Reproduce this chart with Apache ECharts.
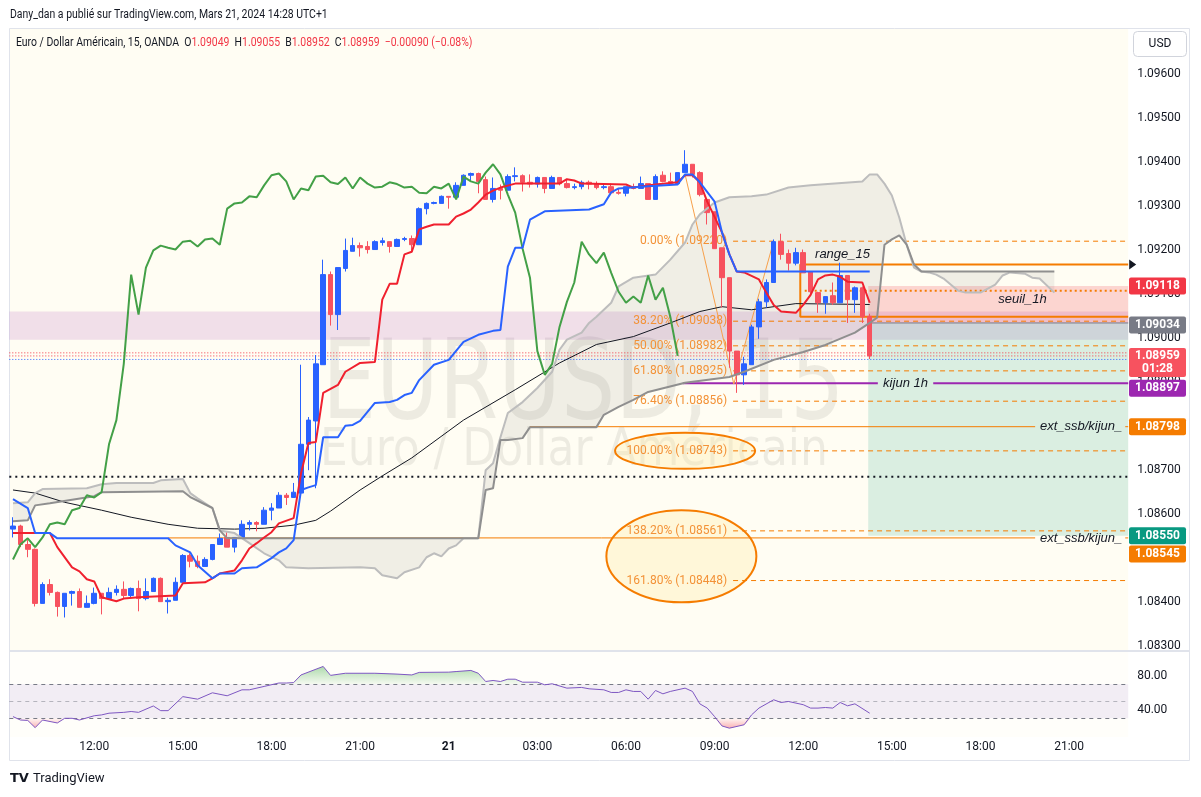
<!DOCTYPE html>
<html>
<head>
<meta charset="utf-8">
<title>EURUSD 15</title>
<script src="https://cdn.jsdelivr.net/npm/echarts@6/dist/echarts.min.js"></script>
<style>
html,body{margin:0;padding:0;background:#ffffff;}
#chart{width:1201px;height:797px;}
</style>
</head>
<body>
<div id="chart"></div>
<script>
// ---------------- DATA ----------------
// 15-minute candles, index 0 = 20 Mar 09:15, index 116 = 21 Mar 14:15
const opens = [1.08565,1.08572,1.08530,1.08519,1.08396,1.08439,1.08421,1.08389,1.08419,1.08423,
1.08387,1.08396,1.08419,1.08407,1.08421,1.08428,1.08414,1.08430,1.08407,1.08423,
1.08453,1.08400,1.08403,1.08444,1.08505,1.08492,1.08480,1.08496,1.08530,1.08546,
1.08524,1.08546,1.08576,1.08580,1.08576,1.08608,1.08613,1.08642,1.08637,1.08647,
1.08758,1.08811,1.08939,1.09144,1.09053,1.09158,1.09197,1.09210,1.09208,1.09201,
1.09217,1.09219,1.09208,1.09224,1.09226,1.09212,1.09294,1.09306,1.09306,1.09322,
1.09320,1.09347,1.09370,1.09374,1.09360,1.09315,1.09340,1.09336,1.09367,1.09369,
1.09354,1.09350,1.09365,1.09340,1.09365,1.09351,1.09342,1.09344,1.09354,1.09350,
1.09342,1.09344,1.09331,1.09329,1.09344,1.09340,1.09351,1.09315,1.09370,1.09356,
1.09351,1.09376,1.09395,1.09376,1.09315,1.09287,1.09205,1.09137,1.08970,1.08916,
1.08939,1.09025,1.09082,1.09126,1.09219,1.09192,1.09170,1.09194,1.09151,1.09103,
1.09080,1.09096,1.09080,1.09142,1.09087,1.09114,1.09049];
const closes = [1.08572,1.08530,1.08519,1.08396,1.08439,1.08421,1.08389,1.08419,1.08423,1.08387,
1.08396,1.08419,1.08407,1.08421,1.08428,1.08414,1.08430,1.08407,1.08423,1.08453,
1.08400,1.08403,1.08444,1.08505,1.08492,1.08480,1.08496,1.08530,1.08544,1.08524,
1.08546,1.08576,1.08580,1.08576,1.08608,1.08613,1.08642,1.08637,1.08649,1.08758,
1.08813,1.08941,1.09144,1.09053,1.09160,1.09199,1.09210,1.09205,1.09201,1.09219,
1.09221,1.09208,1.09224,1.09226,1.09212,1.09294,1.09306,1.09308,1.09322,1.09320,
1.09347,1.09370,1.09374,1.09356,1.09315,1.09340,1.09336,1.09367,1.09369,1.09354,
1.09350,1.09365,1.09340,1.09365,1.09351,1.09342,1.09344,1.09354,1.09350,1.09342,
1.09344,1.09330,1.09329,1.09344,1.09340,1.09351,1.09315,1.09367,1.09356,1.09351,
1.09376,1.09395,1.09372,1.09326,1.09285,1.09203,1.09137,1.08970,1.08916,1.08941,
1.09025,1.09082,1.09126,1.09219,1.09190,1.09170,1.09194,1.09148,1.09105,1.09080,
1.09094,1.09080,1.09142,1.09087,1.09114,1.09048,1.08959];
const lows = [1.08546,1.08524,1.08501,1.08389,1.08396,1.08414,1.08366,1.08364,1.08391,1.08387,
1.08387,1.08394,1.08371,1.08405,1.08414,1.08407,1.08410,1.08378,1.08403,1.08423,
1.08400,1.08373,1.08403,1.08444,1.08478,1.08476,1.08480,1.08494,1.08530,1.08524,
1.08512,1.08546,1.08562,1.08560,1.08576,1.08585,1.08613,1.08620,1.08637,1.08640,
1.08699,1.08658,1.08939,1.09028,1.09018,1.09151,1.09197,1.09185,1.09192,1.09201,
1.09210,1.09194,1.09208,1.09220,1.09196,1.09212,1.09281,1.09304,1.09306,1.09294,
1.09317,1.09347,1.09356,1.09329,1.09315,1.09308,1.09315,1.09336,1.09356,1.09333,
1.09342,1.09342,1.09329,1.09340,1.09347,1.09340,1.09338,1.09338,1.09338,1.09338,
1.09338,1.09326,1.09326,1.09322,1.09338,1.09340,1.09315,1.09315,1.09354,1.09351,
1.09349,1.09376,1.09365,1.09322,1.09258,1.09203,1.09069,1.08932,1.08875,1.08893,
1.08939,1.08998,1.09069,1.09126,1.09178,1.09153,1.09165,1.09148,1.09098,1.09057,
1.09055,1.09075,1.09080,1.09034,1.09057,1.09034,1.08952];
const highs = [1.08592,1.08575,1.08540,1.08521,1.08444,1.08451,1.08423,1.08419,1.08425,1.08430,
1.08414,1.08432,1.08419,1.08432,1.08437,1.08446,1.08432,1.08448,1.08453,1.08455,
1.08455,1.08409,1.08455,1.08508,1.08510,1.08505,1.08501,1.08530,1.08555,1.08558,
1.08546,1.08585,1.08585,1.08583,1.08615,1.08624,1.08649,1.08647,1.08670,1.08939,
1.08820,1.08961,1.09178,1.09151,1.09160,1.09226,1.09228,1.09217,1.09220,1.09222,
1.09228,1.09219,1.09226,1.09230,1.09233,1.09297,1.09308,1.09310,1.09324,1.09322,
1.09354,1.09372,1.09376,1.09376,1.09367,1.09365,1.09349,1.09372,1.09388,1.09372,
1.09372,1.09367,1.09365,1.09369,1.09365,1.09360,1.09351,1.09358,1.09358,1.09356,
1.09351,1.09351,1.09340,1.09344,1.09351,1.09367,1.09351,1.09372,1.09379,1.09376,
1.09376,1.09427,1.09395,1.09379,1.09315,1.09287,1.09205,1.09137,1.08970,1.08957,
1.09030,1.09089,1.09133,1.09224,1.09237,1.09201,1.09205,1.09201,1.09151,1.09105,
1.09094,1.09126,1.09171,1.09142,1.09117,1.09117,1.09055];

// time-axis tick labels (first at index 11 = 20 Mar 12:00, every 12 bars)
const timeLabels = ['12:00','15:00','18:00','21:00','21','03:00','06:00','09:00','12:00','15:00','18:00','21:00'];
const firstLabelIdx = 11, labelStep = 12;
const priceTickLabels = ['1.08300','1.08400','1.08500','1.08600','1.08700','1.08800','1.08900',
  '1.09000','1.09100','1.09200','1.09300','1.09400','1.09500','1.09600'];
const rsiTickLabels = ['40.00','80.00'];

// Ichimoku & moving average, [barIndex, price]
const tenkan = [[0,1.08556],[5,1.08556],[6,1.08524],[8,1.08478],[9,1.08469],[10,1.08451],[11,1.08446],[12,1.08410],[14,1.08401],[15,1.08407],[17,1.08410],[22,1.08414],[23,1.08442],[26,1.08444],[27,1.08453],[28,1.08464],[30,1.08471],[31,1.08494],[32,1.08521],[33,1.08533],[34,1.08546],[35,1.08558],[36,1.08578],[38,1.08590],[39,1.08692],[40,1.08761],[41,1.08763],[42,1.08875],[44,1.08893],[45,1.08923],[47,1.08943],[49,1.08945],[50,1.09087],[51,1.09123],[52,1.09123],[53,1.09190],[54,1.09196],[55,1.09247],[56,1.09253],[57,1.09258],[59,1.09258],[60,1.09276],[61,1.09283],[62,1.09292],[63,1.09308],[64,1.09326],[65,1.09335],[66,1.09342],[68,1.09351],[74,1.09351],[75,1.09361],[76,1.09358],[77,1.09351],[83,1.09349],[84,1.09342],[86,1.09347],[87,1.09349],[90,1.09354],[91,1.09370],[92,1.09370],[93,1.09354],[94,1.09310],[96,1.09240],[97,1.09190],[98,1.09151],[99,1.09149],[101,1.09133],[102,1.09103],[103,1.09075],[104,1.09060],[106,1.09057],[107,1.09075],[108,1.09098],[109,1.09133],[110,1.09142],[111,1.09144],[112,1.09139],[113,1.09128],[115,1.09126],[116,1.09080]];
const kijun = [[0,1.08633],[2,1.08613],[3,1.08556],[5,1.08556],[6,1.08544],[21,1.08544],[22,1.08528],[24,1.08512],[25,1.08483],[27,1.08453],[28,1.08464],[30,1.08464],[31,1.08476],[33,1.08478],[35,1.08499],[36,1.08512],[37,1.08521],[38,1.08540],[39,1.08654],[40,1.08660],[41,1.08665],[42,1.08774],[44,1.08774],[45,1.08800],[46,1.08802],[47,1.08811],[49,1.08852],[51,1.08854],[52,1.08859],[53,1.08870],[54,1.08875],[55,1.08904],[57,1.08939],[59,1.08950],[61,1.08991],[63,1.09007],[65,1.09016],[66,1.09018],[67,1.09162],[68,1.09205],[69,1.09205],[70,1.09269],[72,1.09288],[78,1.09292],[80,1.09304],[81,1.09331],[82,1.09340],[86,1.09345],[90,1.09349],[91,1.09372],[92,1.09372],[93,1.09354],[95,1.09310],[96,1.09240],[97,1.09190],[98,1.09151],[116,1.09151]];
const senkouA = [[0,1.08624],[2,1.08626],[3,1.08647],[4,1.08656],[10,1.08658],[12,1.08667],[14,1.08670],[19,1.08670],[20,1.08676],[23,1.08679],[24,1.08647],[25,1.08635],[27,1.08613],[28,1.08562],[30,1.08556],[32,1.08533],[34,1.08510],[36,1.08494],[37,1.08478],[40,1.08476],[47,1.08478],[49,1.08476],[50,1.08460],[52,1.08453],[53,1.08467],[55,1.08478],[56,1.08501],[57,1.08510],[58,1.08503],[59,1.08521],[60,1.08528],[61,1.08544],[63,1.08544],[64,1.08699],[65,1.08715],[66,1.08774],[67,1.08829],[69,1.08854],[71,1.08886],[73,1.08923],[74,1.08973],[75,1.08996],[77,1.09012],[78,1.09034],[79,1.09048],[81,1.09080],[82,1.09117],[84,1.09137],[87,1.09144],[89,1.09178],[91,1.09217],[92,1.09258],[93,1.09281],[95,1.09308],[97,1.09320],[100,1.09322],[102,1.09326],[105,1.09342],[108,1.09347],[115,1.09356],[116,1.09372],[117,1.09372],[118,1.09351],[119,1.09324],[120,1.09274],[121,1.09212],[122,1.09160],[123,1.09151],[124,1.09149],[125,1.09144],[126,1.09135],[127,1.09121],[128,1.09107],[129,1.09103],[131,1.09103],[133,1.09121],[134,1.09142],[135,1.09149],[137,1.09146],[138,1.09137],[139,1.09135],[141,1.09103]];
const senkouB = [[0,1.08583],[2,1.08585],[3,1.08619],[5,1.08624],[11,1.08640],[12,1.08649],[23,1.08651],[24,1.08638],[27,1.08613],[28,1.08562],[29,1.08544],[63,1.08544],[64,1.08654],[65,1.08658],[66,1.08768],[67,1.08768],[69,1.08772],[70,1.08797],[79,1.08797],[80,1.08825],[82,1.08843],[84,1.08859],[86,1.08877],[91,1.08898],[97,1.08911],[99,1.08923],[103,1.08950],[107,1.08968],[110,1.08984],[114,1.09012],[116,1.09034],[117,1.09046],[118,1.09212],[119,1.09224],[120,1.09233],[121,1.09212],[122,1.09167],[123,1.09151],[141,1.09151]];
const ma = [[0,1.08654],[3,1.08647],[7,1.08626],[12,1.08608],[16,1.08592],[21,1.08576],[25,1.08567],[30,1.08565],[34,1.08567],[38,1.08574],[41,1.08585],[43,1.08606],[47,1.08654],[50,1.08686],[54,1.08727],[61,1.08813],[68,1.08882],[74,1.08943],[79,1.08985],[84,1.09003],[89,1.09034],[93,1.09060],[96,1.09071],[100,1.09064],[106,1.09078],[116,1.09076]];
const chikouLag = 26; // lagging span = closes plotted 26 bars back

// RSI pane, [barIndex, value]
const rsi = [[0,32],[1,28],[2,27.5],[3,19],[4,28],[6,24.5],[7,30],[8,30],[9,28],[11,33],[12,34],[13,36],[15,37],[16,38],[17,37],[19,44.5],[20,39],[21,39],[23,55.5],[25,52.5],[27,60],[29,56.5],[31,63.5],[32,63.5],[34,67.5],[36,71.5],[37,71.5],[38,72],[39,81],[42,91],[43,80.5],[45,83],[49,83],[52,82],[54,81],[55,84],[59,84.3],[60,85],[62,86.3],[63,83],[64,73.3],[65,74.5],[66,73.3],[67,76],[68,76],[69,72.5],[71,72.5],[72,69.4],[73,70.6],[75,65.5],[77,66.3],[78,64.7],[80,63.5],[81,60.4],[82,60.4],[83,63.5],[84,61.6],[85,61.6],[86,52.5],[87,62.7],[88,58.8],[89,61.6],[91,65.5],[92,61.6],[93,47],[94,42],[95,32],[96,21],[97,18.4],[99,22.4],[100,34],[101,42],[103,51.8],[104,48.6],[105,49.8],[107,46],[108,42],[109,42],[110,42.7],[111,42],[112,48.6],[113,44.7],[114,47],[116,36]];
const rsiLevels = [70, 50, 30];

// Fibonacci extension tool
const fibPct = ['0.00%','38.20%','50.00%','61.80%','76.40%','100.00%','138.20%','161.80%'];
const fibPrices = [1.09220,1.09038,1.08982,1.08925,1.08856,1.08743,1.08561,1.08448];
const fibAnchors = [[91,1.09372],[97.6,1.08895],[103,1.09220]];
const fibStartIdx = 97.5;
const ellipseCenters = [[91,1.08743],[90.5,1.08503]];

// other drawings
const pinkZone = [1.08996, 1.09060];
const positionIdx = 115.8;
const positionEntry = 1.09034, positionStop = 1.09118, positionTarget = 1.08550;
const rangeIdx = 106.6, rangeTop = 1.09167, rangeBottom = 1.09048;
const seuilDotted = 1.09107, seuilDottedIdx = 107.2;
const blackDotted = 1.08684;
const askPrice = 1.08966, lastPrice = 1.08959, bidPrice = 1.08951;
const extLevels = [1.08798, 1.08545], extStartIdx = [70, 21];
const kijun1h = 1.08897, kijun1hStart = 90.7;
const tagPrices = [1.09118, 1.09034, 1.08959, 1.08897, 1.08798, 1.08550, 1.08545];
const xMin = -0.5, xMax = 151;

// ---------------- CHART ----------------
const FONT = 'Roboto, "Liberation Sans", Arial, sans-serif';
const TXT = '#131722';
const UP = '#2962ff', DOWN = '#f7525f', ORANGE = '#f57c00';

const chikou = closes.slice(chikouLag).map((c, i) => [i, c]);
const candleData = opens.map((o, i) => [i, o, closes[i], lows[i], highs[i]]);

function xFormatter(v) {
  const k = (v - firstLabelIdx) / labelStep;
  const r = Math.round(k);
  if (Math.abs(k - r) > 1e-6 || r < 0 || r >= timeLabels.length) return '';
  return timeLabels[r] === '21' ? '{b|21}' : timeLabels[r];
}
const xCommon = {type:'value', min:xMin, max:xMax, interval:0.5,
  axisLine:{show:false}, axisTick:{show:false}, splitLine:{show:false}};

function seg(pts, color, width, type, z) {
  return {type:'line', xAxisIndex:0, yAxisIndex:0, data:pts, symbol:'none', silent:true, z:z,
    lineStyle:{color:color, width:width, type:type || 'solid'}};
}
function curve(pts, color, width, z) {
  return {type:'line', xAxisIndex:0, yAxisIndex:0, data:pts, symbol:'none', silent:true, z:z,
    lineStyle:{color:color, width:width}};
}
function zone(x0, x1, y0, y1, fill) {
  return {type:'custom', xAxisIndex:0, yAxisIndex:0, z:2, silent:true, data:[[x0, y0, x1, y1]],
    renderItem:function (params, api) {
      const a = api.coord([api.value(0), api.value(1)]);
      const b = api.coord([api.value(2), api.value(3)]);
      return {type:'rect', shape:{x:Math.min(a[0],b[0]), y:Math.min(a[1],b[1]),
        width:Math.abs(b[0]-a[0]), height:Math.abs(b[1]-a[1])}, style:{fill:fill}};
    }};
}

const series = [];
series.push(zone(xMin, xMax, pinkZone[0], pinkZone[1], 'rgba(156,39,176,0.14)'));
series.push(zone(positionIdx, xMax, positionEntry, positionStop, 'rgba(242,54,69,0.2)'));
series.push(zone(positionIdx, xMax, positionTarget, positionEntry, 'rgba(8,153,129,0.15)'));
// kumo fill
series.push({type:'custom', xAxisIndex:0, yAxisIndex:0, z:3, silent:true, data:[senkouA[0]],
  renderItem:function (params, api) {
    const pts = senkouA.map(p => api.coord(p)).concat(senkouB.slice().reverse().map(p => api.coord(p)));
    return {type:'polygon', shape:{points:pts}, style:{fill:'rgba(120,120,120,0.11)'}};
  }});
// ellipses around fib labels
const ellipseSize = [[70, 18], [75, 46]];
series.push({type:'custom', xAxisIndex:0, yAxisIndex:0, z:3, silent:true, data:ellipseCenters,
  renderItem:function (params, api) {
    const c = api.coord([api.value(0), api.value(1)]);
    const s = ellipseSize[params.dataIndex];
    return {type:'ellipse', shape:{cx:c[0], cy:c[1], rx:s[0], ry:s[1]},
      style:{fill:'rgba(255,236,170,0.35)', stroke:ORANGE, lineWidth:2}};
  }});
// horizontal drawings
series.push(seg([[xMin, blackDotted],[xMax, blackDotted]], '#131722', 2, [2,4], 4));
series.push(seg([[xMin, askPrice],[xMax, askPrice]], '#f23645', 1, [1,2], 4));
series.push(seg([[xMin, lastPrice],[xMax, lastPrice]], '#f23645', 1, [1,2], 4));
series.push(seg([[xMin, bidPrice],[xMax, bidPrice]], '#2962ff', 1, [1,2], 4));
extLevels.forEach((lv, i) => {
  series.push(seg([[extStartIdx[i], lv],[138.4, lv]], ORANGE, 1, 'solid', 4));
  series.push(seg([[150.6, lv],[xMax, lv]], ORANGE, 1, 'solid', 4));
});
series.push(seg([[kijun1hStart, kijun1h],[117.1, kijun1h]], '#9c27b0', 2, 'solid', 4));
series.push(seg([[124.6, kijun1h],[xMax, kijun1h]], '#9c27b0', 2, 'solid', 4));
fibPrices.forEach(p => series.push(seg([[fibStartIdx, p],[xMax, p]], ORANGE, 1, [5,4], 4)));
series.push(seg(fibAnchors, '#f7a04b', 1, 'solid', 4));
series.push(seg([[xMax, rangeTop],[rangeIdx, rangeTop],[rangeIdx, rangeBottom],[xMax, rangeBottom]], ORANGE, 2, 'solid', 4));
series.push(seg([[seuilDottedIdx, seuilDotted],[xMax, seuilDotted]], ORANGE, 2, [2,3], 4));
series.push(seg([[positionIdx, positionEntry],[xMax, positionEntry]], '#787b86', 1, 'solid', 4));
// moving average
series.push(curve(ma, '#131722', 1, 5));
// candles
series.push({type:'candlestick', xAxisIndex:0, yAxisIndex:0, z:6, data:candleData, barWidth:5,
  encode:{x:0, y:[1,2,3,4]},
  itemStyle:{color:UP, color0:DOWN, borderColor:UP, borderColor0:DOWN, borderWidth:1}});
// ichimoku lines
series.push(curve(senkouA, '#bdbdbd', 2, 7));
series.push(curve(senkouB, '#8f8f8f', 2, 7));
series.push(curve(chikou, '#43a047', 2, 7));
series.push(curve(tenkan, '#f0202e', 2, 7));
series.push(curve(kijun, '#2962ff', 2, 8));
// RSI pane
const green = new echarts.graphic.LinearGradient(0,0,0,1,[{offset:0,color:'rgba(76,175,80,0.65)'},{offset:1,color:'rgba(76,175,80,0.08)'}]);
const red = new echarts.graphic.LinearGradient(0,0,0,1,[{offset:0,color:'rgba(242,54,69,0.05)'},{offset:1,color:'rgba(242,54,69,0.55)'}]);
series.push({type:'line', xAxisIndex:1, yAxisIndex:1, data:rsi.map(p => [p[0], Math.max(p[1], rsiLevels[0])]),
  symbol:'none', silent:true, z:3, lineStyle:{width:0}, areaStyle:{origin:rsiLevels[0], color:green}});
series.push({type:'line', xAxisIndex:1, yAxisIndex:1, data:rsi.map(p => [p[0], Math.min(p[1], rsiLevels[2])]),
  symbol:'none', silent:true, z:3, lineStyle:{width:0}, areaStyle:{origin:rsiLevels[2], color:red}});
series.push({type:'line', xAxisIndex:1, yAxisIndex:1, data:rsi, symbol:'none', silent:true, z:5,
  lineStyle:{color:'#7e57c2', width:1},
  markArea:{silent:true, itemStyle:{color:'rgba(126,87,194,0.1)'}, data:[[{yAxis:rsiLevels[2]},{yAxis:rsiLevels[0]}]]},
  markLine:{silent:true, symbol:'none', label:{show:false},
    data:[{yAxis:rsiLevels[0], lineStyle:{color:'#787b86', type:[4,4], width:1}},
          {yAxis:rsiLevels[1], lineStyle:{color:'rgba(120,123,134,0.5)', type:[4,4], width:1}},
          {yAxis:rsiLevels[2], lineStyle:{color:'#787b86', type:[4,4], width:1}}]}});

const option = {
  animation:false,
  backgroundColor:'#ffffff',
  grid:[
    {left:9.3, right:72.8, top:28, height:622, show:true, backgroundColor:'#fffdf3', borderWidth:0},
    {left:9.3, right:72.8, top:652, height:85, show:true, backgroundColor:'#fffefa', borderWidth:0}
  ],
  xAxis:[
    Object.assign({gridIndex:0, axisLabel:{show:false}}, xCommon),
    Object.assign({gridIndex:1, axisLabel:{formatter:xFormatter, color:TXT, fontSize:12, fontFamily:FONT, margin:4,
      rich:{b:{fontWeight:'bold', fontSize:12, color:TXT, fontFamily:FONT}}}}, xCommon)
  ],
  yAxis:[
    {gridIndex:0, type:'value', position:'right', min:1.0829, max:1.09705, interval:0.0001,
     axisLine:{show:false}, axisTick:{show:false}, splitLine:{show:false},
     axisLabel:{color:TXT, fontSize:12, fontFamily:FONT, margin:9,
       formatter:v => { const s = v.toFixed(5); return priceTickLabels.indexOf(s) >= 0 ? s : ''; }}},
    {gridIndex:1, type:'value', position:'right', min:8, max:108, interval:4,
     axisLine:{show:false}, axisTick:{show:false}, splitLine:{show:false},
     axisLabel:{color:TXT, fontSize:12, fontFamily:FONT, margin:9,
       formatter:v => { const s = v.toFixed(2); return rsiTickLabels.indexOf(s) >= 0 ? s : ''; }}}
  ],
  series:series
};

const chart = echarts.init(document.getElementById('chart'), null, {width:1201, height:797});
chart.setOption(option);

// ---------------- texts & annotations (positioned through the axes) ----------------
const P = (x, y) => chart.convertToPixel({xAxisIndex:0, yAxisIndex:0}, [x, y]);
const g = [];
function txt(x, y, text, opts) {
  g.push(Object.assign({type:'text', x:x, y:y, z:opts && opts.z != null ? opts.z : 10, silent:true,
    scaleX:(opts && opts.scaleX) || 1,
    style:Object.assign({text:text, fill:TXT, fontSize:12, fontFamily:FONT, align:'left', verticalAlign:'middle'}, (opts && opts.style) || {})}));
}
// watermark
const WM = '"DejaVu Sans Condensed", "Liberation Sans Narrow", sans-serif';
g.push({type:'text', x:322, y:334, z:1, silent:true, scaleX:0.865, style:{text:'EURUSD, 15', fill:'rgba(0,0,0,0.07)',
  font:'110px ' + WM, align:'left', verticalAlign:'alphabetic'}});
g.push({type:'text', x:320, y:425, z:1, silent:true, scaleX:0.94, style:{text:'Euro / Dollar Américain', fill:'rgba(0,0,0,0.07)',
  font:'52px ' + WM, align:'left', verticalAlign:'alphabetic'}});
// frame
g.push({type:'rect', z:0, silent:true, shape:{x:9.5, y:28.5, width:1180, height:732}, style:{fill:null, stroke:'#e0e3eb', lineWidth:1}});
g.push({type:'line', z:9, silent:true, shape:{x1:9.5, y1:651, x2:1189.5, y2:651}, style:{stroke:'#e0e3eb', lineWidth:2}});
// header
txt(10, 15, 'Dany_dan a publié sur TradingView.com, Mars 21, 2024 14:28 UTC+1', {scaleX:0.87});
g.push({type:'text', x:16, y:43, z:10, silent:true, scaleX:0.87, style:{
  text:'{k|Euro / Dollar Américain, 15, OANDA  O}{v|1.09049}{k|  H}{v|1.09055}{k|  B}{v|1.08952}{k|  C}{v|1.08959}{v|  −0.00090 (−0.08%)}',
  verticalAlign:'middle', rich:{k:{fill:TXT, fontSize:12, fontFamily:FONT}, v:{fill:'#f23645', fontSize:12, fontFamily:FONT}}}});
// USD button
g.push({type:'rect', z:10, silent:true, shape:{x:1133.5, y:31.5, width:53, height:25, r:4}, style:{fill:'#ffffff', stroke:'#d1d4dc', lineWidth:1}});
txt(1160, 44, 'USD', {style:{align:'center'}});
// TradingView logo
txt(10, 779, 'TV', {style:{fontWeight:'bold', fontSize:13, fontFamily:'"DejaVu Sans", sans-serif'}});
txt(33, 779, 'TradingView', {style:{fontSize:13}});
// fib labels (right aligned before the level lines)
fibPrices.forEach((p, i) => {
  const q = P(96.7, p);
  txt(q[0], q[1], fibPct[i] + ' (' + p.toFixed(5) + ')', {z:4, style:{align:'right', fill:'#f39237'}});
});
// drawing names
const it = {fontStyle:'italic', fontSize:13, fontFamily:'"Liberation Sans", Arial, sans-serif'};
let q = P(108.6, 1.09190); txt(q[0], q[1], 'range_15', {style:it});
q = P(133.4, 1.09087); txt(q[0], q[1], 'seuil_1h', {style:it});
q = P(120.85, kijun1h); txt(q[0], q[1], 'kijun 1h', {style:Object.assign({align:'center'}, it)});
extLevels.forEach(lv => { const r = P(150.2, lv); txt(r[0], r[1], 'ext_ssb/kijun_', {style:Object.assign({align:'right'}, it)}); });
// ray arrow
q = P(xMax, rangeTop);
g.push({type:'polygon', z:12, silent:true, shape:{points:[[q[0]+1, q[1]-5],[q[0]+8, q[1]],[q[0]+1, q[1]+5]]}, style:{fill:'#131722'}});
// price tags on the axis
const tagColors = ['#f23645','#787b86','#f7525f','#9c27b0','#f57c00','#089981','#f57c00'];
const tagShift = [0, 2, 0, 5, 0, 0, 16];
tagPrices.forEach((p, i) => {
  const y = P(0, p)[1] + tagShift[i];
  const two = (p === lastPrice);
  const top = two ? y - 8 : y - 8.5;
  const h = two ? 29 : 17;
  g.push({type:'rect', z:20, silent:true, shape:{x:1129, y:top, width:57, height:h, r:2}, style:{fill:tagColors[i]}});
  txt(1157.5, y, p.toFixed(5), {z:21, style:{align:'center', fill:'#ffffff', fontWeight:'bold'}});
  if (two) txt(1157.5, y + 13.5, '01:28', {z:21, style:{align:'center', fill:'#ffffff', fontWeight:'bold'}});
});
chart.setOption({graphic:g});
</script>
</body>
</html>
